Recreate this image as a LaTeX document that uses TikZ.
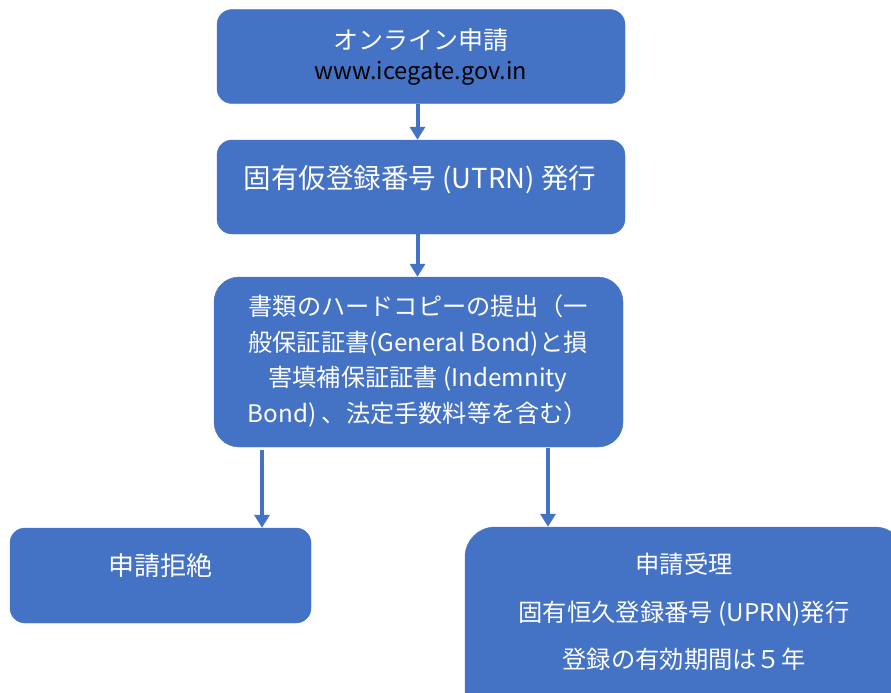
\documentclass[tikz,border=0pt]{standalone}
\usepackage{fontspec}
\setmainfont{Noto Sans CJK JP}
\usetikzlibrary{arrows.meta}
\definecolor{boxblue}{HTML}{4472C4}
\tikzset{
  box/.style={rectangle, rounded corners=#1, fill=boxblue, draw=boxblue, inner sep=0pt},
  box/.default=15pt,
  lbl/.style={text=white, inner sep=0pt, align=center, font=\fontsize{24}{36}\selectfont},
  arr/.style={draw=boxblue, line width=4pt, -{Triangle[width=15pt,length=13pt]}}
}
\begin{document}
\begin{tikzpicture}[x=1pt,y=-1pt]
\useasboundingbox (0,0) rectangle (891,693);
\node[box, minimum width=408pt, minimum height=94pt] (b1) at (421,56.5) {};
\node[box, minimum width=408pt, minimum height=94pt] (b2) at (421,187) {};
\node[box=25pt, minimum width=409pt, minimum height=170pt] (b3) at (418.5,362) {};
\node[box, minimum width=301pt, minimum height=95pt] (b4) at (160.5,575.5) {};
\node[box=30pt, minimum width=440pt, minimum height=200pt] (b5) at (685,627) {};

\node[lbl, font=\fontsize{25}{30}\selectfont] (t1a) at (421,40) {オンライン申請};
\node[lbl, text=black, font=\fontsize{23.5}{26}\selectfont] (t1b) at (421,73) {www.icegate.gov.in};
\node[lbl, font=\fontsize{27.5}{30}\selectfont] (t2) at (420,180) {固有仮登録番号 (UTRN) 発行};
\node[lbl, font=\fontsize{24.2}{35.5}\selectfont] (t3) at (418,361) {書類のハードコピーの提出（一\\般保証証書(General Bond)と損\\害填補保証証書 (Indemnity\\Bond) 、法定手数料等を含む）};
\node[lbl, font=\fontsize{26}{30}\selectfont] (t4) at (160,566) {申請拒絶};
\node[lbl, font=\fontsize{24.3}{47.5}\selectfont] (t5) at (684,612) {申請受理\\固有恒久登録番号 (UPRN)発行\\登録の有効期間は５年};

\coordinate (c1) at (417.5,0);
\coordinate (c4) at (262,0);
\coordinate (c5) at (548,0);
\draw[arr] (b1.south -| c1) -- (b2.north -| c1);
\draw[arr] (b2.south -| c1) -- (b3.north -| c1);
\draw[arr] ([yshift=-3pt]b3.south -| c4) -- (b4.north -| c4);
\draw[arr] ([yshift=-1pt]b3.south -| c5) -- (b5.north -| c5);
\end{tikzpicture}
\end{document}
